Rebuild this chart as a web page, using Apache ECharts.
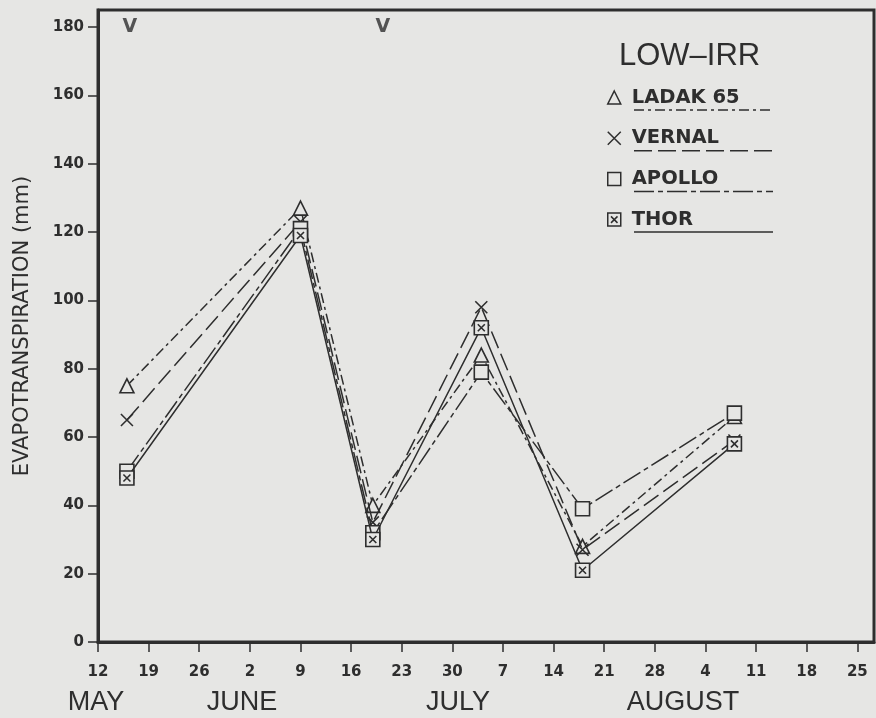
<!DOCTYPE html>
<head>
    <meta charset="utf-8">
    <title>LOW-IRR evapotranspiration</title>
    <script type="text/javascript" src="https://cdn.jsdelivr.net/npm/echarts@6/dist/echarts.min.js"></script>
    <style>
        html, body { margin: 0; padding: 0; background: #e6e6e4; }
        #main { width: 876px; height: 718px; }
    </style>
</head>
<body>
    <div id="main"></div>

    <script type="text/javascript">
        // x = days after 12 May
        var sampleDays = [4, 28, 38, 53, 67, 88];
        var ladak  = [75, 127, 40, 84, 28, 66];
        var vernal = [65, 123, 35, 98, 27, 59];
        var apollo = [50, 121, 32, 79, 39, 67];
        var thor   = [48, 119, 30, 92, 21, 58];
        // "V" marks at top
        var cutDays = [4.4, 39.4];
        var cutLevel = 180;

        var xTickDays = [0, 7, 14, 21, 28, 35, 42, 49, 56, 63, 70, 77, 84, 91, 98, 105];
        var xTickLabels = ['12', '19', '26', '2', '9', '16', '23', '30', '7', '14', '21', '28', '4', '11', '18', '25'];
        var yTicks = [0, 20, 40, 60, 80, 100, 120, 140, 160, 180];
        var months = ['MAY', 'JUNE', 'JULY', 'AUGUST'];
        var monthX = [96, 242, 458, 683];

        var names = ['LADAK 65', 'VERNAL', 'APOLLO', 'THOR'];
        var dashes = [[10, 4, 3, 4], [18, 6], [20, 4, 5, 4], 'solid'];

        var ink = '#2e2e2e';
        var bg = '#e6e6e4';
        var symX = 'path://M0,0L10,10M10,0L0,10';
        var symXRect = 'path://M0,0L10,0L10,10L0,10Z M2.5,2.5L7.5,7.5M7.5,2.5L2.5,7.5';
        var symbols = ['triangle', symX, 'rect', symXRect];
        var sizes = [14, 12, 14, 14];
        var values = [ladak, vernal, apollo, thor];

        function pairs(arr) {
            var out = [];
            for (var i = 0; i < arr.length; i++) {
                out.push([sampleDays[i], arr[i]]);
            }
            return out;
        }

        var series = [];
        var legendData = [];
        for (var i = 0; i < names.length; i++) {
            series.push({
                name: names[i],
                type: 'line',
                data: pairs(values[i]),
                symbol: symbols[i],
                symbolSize: sizes[i],
                lineStyle: { color: ink, width: 1.5, type: dashes[i] },
                itemStyle: { color: bg, borderColor: ink, borderWidth: 1.6 },
                emphasis: { disabled: true },
                z: 3 + i
            });
            legendData.push({
                name: names[i],
                icon: symbols[i],
                itemStyle: { color: bg, borderColor: ink, borderWidth: 1.5 }
            });
        }

        var cuts = [];
        for (var j = 0; j < cutDays.length; j++) {
            cuts.push([cutDays[j], cutLevel]);
        }
        series.push({
            name: 'cut',
            type: 'scatter',
            data: cuts,
            symbolSize: 0,
            silent: true,
            label: {
                show: true,
                position: 'inside',
                formatter: 'V',
                color: ink,
                fontFamily: 'DejaVu Sans',
                fontSize: 19,
                fontWeight: 'bold'
            }
        });

        // underline under legend names, showing line style
        var graphics = [];
        for (var k = 0; k < names.length; k++) {
            var yy = 110 + k * 40.7;
            graphics.push({
                type: 'line',
                shape: { x1: 634, y1: yy, x2: 773, y2: yy },
                style: { stroke: ink, lineWidth: 1.5, lineDash: dashes[k] === 'solid' ? null : dashes[k] }
            });
        }
        for (var m = 0; m < months.length; m++) {
            graphics.push({
                type: 'text',
                x: monthX[m],
                y: 703,
                style: {
                    text: months[m],
                    fill: ink,
                    font: '27px "Liberation Sans"',
                    textAlign: 'center',
                    textVerticalAlign: 'middle'
                }
            });
        }

        var chart = echarts.init(document.getElementById('main'));
        chart.setOption({
            backgroundColor: bg,
            animation: false,
            title: {
                text: 'LOW–IRR',
                left: 614,
                top: 36,
                textStyle: {
                    fontFamily: 'Liberation Sans',
                    fontSize: 31,
                    fontWeight: 'normal',
                    color: ink
                }
            },
            legend: {
                data: legendData,
                orient: 'vertical',
                left: 602,
                top: 82,
                itemWidth: 13,
                itemHeight: 13,
                itemGap: 19.7,
                selectedMode: false,
                textStyle: {
                    fontFamily: 'DejaVu Sans',
                    fontSize: 19.5,
                    fontWeight: 'bold',
                    color: ink,
                    lineHeight: 21,
                    padding: [0, 0, 0, 6]
                }
            },
            grid: {
                left: 98,
                right: 2,
                top: 10,
                bottom: 76,
                show: true,
                borderColor: ink,
                borderWidth: 3,
                containLabel: false
            },
            xAxis: {
                type: 'value',
                min: 0,
                max: 107.3,
                axisLine: { show: true, lineStyle: { color: ink, width: 3 } },
                axisTick: {
                    show: true,
                    customValues: xTickDays,
                    length: 10,
                    lineStyle: { color: ink, width: 1.5 }
                },
                axisLabel: {
                    customValues: xTickDays,
                    margin: 23,
                    color: ink,
                    fontFamily: 'DejaVu Sans',
                    fontSize: 15,
                    fontWeight: 'bold',
                    formatter: function (v) {
                        var idx = xTickDays.indexOf(v);
                        return idx >= 0 ? xTickLabels[idx] : '';
                    }
                },
                splitLine: { show: false }
            },
            yAxis: {
                type: 'value',
                min: 0,
                max: 185,
                name: 'EVAPOTRANSPIRATION (mm)',
                nameLocation: 'middle',
                nameRotate: 90,
                nameGap: 65,
                nameTextStyle: {
                    fontFamily: 'DejaVu Sans',
                    fontSize: 21,
                    color: ink
                },
                axisLine: { show: true, lineStyle: { color: ink, width: 3 } },
                axisTick: {
                    show: true,
                    customValues: yTicks,
                    length: 10,
                    lineStyle: { color: ink, width: 1.5 }
                },
                axisLabel: {
                    customValues: yTicks,
                    margin: 14,
                    color: ink,
                    fontFamily: 'DejaVu Sans',
                    fontSize: 15,
                    fontWeight: 'bold'
                },
                splitLine: { show: false }
            },
            graphic: graphics,
            series: series
        });
    </script>
</body>
